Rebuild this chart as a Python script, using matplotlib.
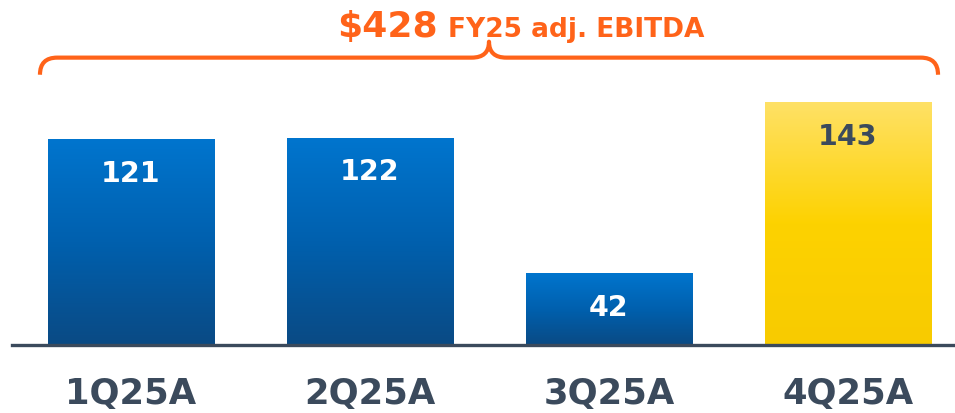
import numpy as np
import matplotlib.pyplot as plt
from matplotlib.path import Path
from matplotlib.patches import PathPatch
from matplotlib.colors import LinearSegmentedColormap

# data
categories = ["1Q25A", "2Q25A", "3Q25A", "4Q25A"]
values = [121, 122, 42, 143]
highlight = [False, False, False, True]

orange = "#FF6319"
dark = "#3B4A5C"
blue_cmap = LinearSegmentedColormap.from_list("blue", ["#0A4A84", "#0060AE", "#0075CE"])
yellow_cmap = LinearSegmentedColormap.from_list("yellow", ["#F8CB00", "#FDD200", "#FFE166"])

plt.rcParams['font.family'] = ['DejaVu Sans']

fig = plt.figure(figsize=(9.55, 4.14), dpi=100)
ax = fig.add_axes([12 / 955, 68 / 414, 943 / 955, 346 / 414])

x = np.arange(len(categories))
width = 0.695
bars = ax.bar(x, values, width=width, color="none", zorder=2)

# gradient fill for every bar
grad = np.linspace(0, 1, 256).reshape(-1, 1)
for b, hl in zip(bars, highlight):
    x0, y0 = b.get_x(), b.get_y()
    ax.imshow(grad, cmap=yellow_cmap if hl else blue_cmap, origin="lower",
              extent=[x0, x0 + b.get_width(), y0, y0 + b.get_height()],
              aspect="auto", zorder=1, interpolation="bicubic")

# value labels
for xi, v, hl in zip(x, values, highlight):
    ax.text(xi, v - 19.5, str(v), ha="center", va="center", fontsize=20.5,
            fontweight="bold", color=dark if hl else "white", zorder=3)

ax.set_xlim(-0.498, 3.448)
ax.set_ylim(0, 204.2)

for s in ["top", "right", "left"]:
    ax.spines[s].set_visible(False)
ax.spines["bottom"].set_color(dark)
ax.spines["bottom"].set_linewidth(2.4)
ax.set_yticks([])
ax.set_xticks(x)
ax.set_xticklabels(categories, fontsize=25.5, fontweight="bold", color=dark)
ax.tick_params(axis="x", length=0, pad=22)

# brace over all bars
xl = -0.381
xr = 3.377
xm = (xl + xr) / 2
yend, yline, ytip = 159.5, 169.6, 179.0
rx = 0.072
verts = [(xl, yend), (xl, yline), (xl + rx, yline),
         (xm - rx, yline), (xm, yline), (xm, ytip),
         (xm, yline), (xm + rx, yline),
         (xr - rx, yline), (xr, yline), (xr, yend)]
codes = [Path.MOVETO, Path.CURVE3, Path.CURVE3,
         Path.LINETO, Path.CURVE3, Path.CURVE3,
         Path.CURVE3, Path.CURVE3,
         Path.LINETO, Path.CURVE3, Path.CURVE3]
ax.add_patch(PathPatch(Path(verts, codes), facecolor="none", edgecolor=orange,
                       lw=3, capstyle="butt", joinstyle="round", clip_on=False))

# headline
fig.text(438 / 955, 377 / 414, f"${sum(values)}", ha="right", va="baseline",
         fontsize=26, fontweight="bold", color=orange)
fig.text(448 / 955, 377 / 414, "FY25 adj. EBITDA", ha="left", va="baseline",
         fontsize=19, fontweight="bold", color=orange)

fig.savefig("out.png", dpi=100)
